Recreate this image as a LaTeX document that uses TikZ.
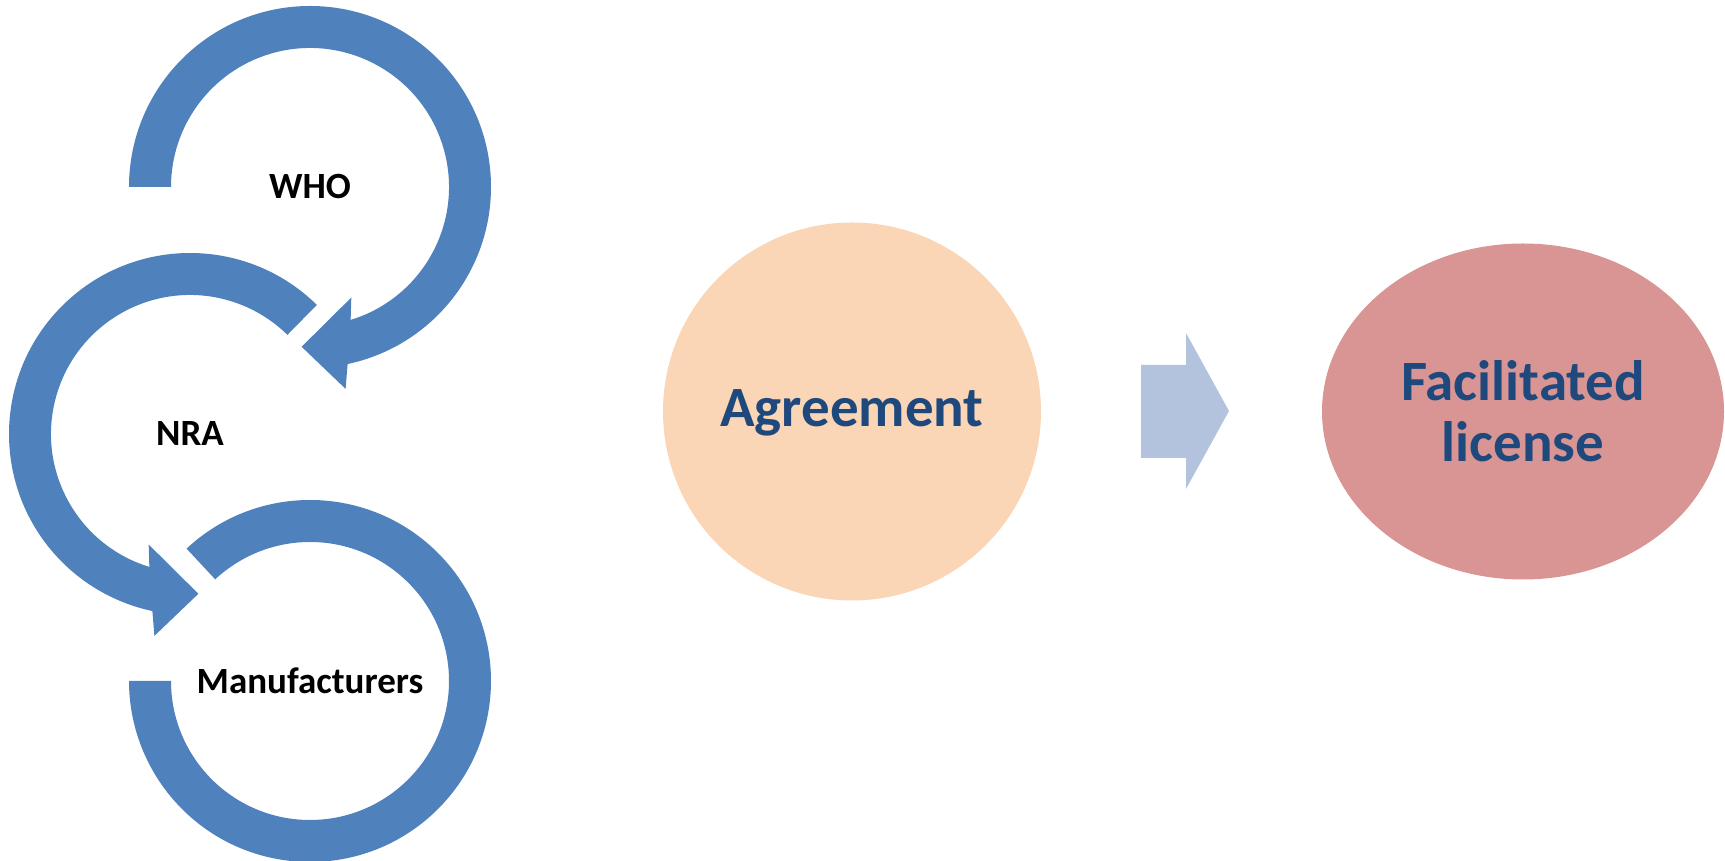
\documentclass[tikz,border=0pt]{standalone}
\usepackage{fontspec}
\setmainfont{Carlito}
\usepackage{xcolor}
\usepackage{tikz}
\usetikzlibrary{shapes.geometric}
\definecolor{ringblue}{HTML}{4F81BD}
\definecolor{peach}{HTML}{FAD5B6}
\definecolor{rose}{HTML}{D99594}
\definecolor{paleblue}{HTML}{B3C3DE}
\definecolor{navy}{HTML}{1F497D}

\begin{document}
\begin{tikzpicture}[x=0.5pt,y=0.5pt,
    ring/.style={fill=ringblue},
    lbl/.style={font=\fontsize{18.5}{22}\selectfont\bfseries,text=black,inner sep=0pt},
    big/.style={font=\fontsize{28.5}{30.5}\selectfont\bfseries,text=navy,inner sep=0pt}]
    \useasboundingbox (0,0) rectangle (1725,861);
    \node[lbl] (who) at (310,674) {WHO};
    \node[lbl] (nra) at (190,427) {NRA};
    \node[lbl] (manu) at (310,180) {Manufacturers};
    \begin{scope}[shift={(who)}]
        \fill[ring] (180:181) arc[start angle=180,end angle=-78,radius=181]
            -- (-80:205) -- (-93:160) -- (-69.5:118) -- (-73:139)
            arc[start angle=-73,end angle=180,radius=139] -- cycle;
    \end{scope}
    \begin{scope}[shift={(nra)}]
        \fill[ring] (45.5:181) arc[start angle=45.5,end angle=258,radius=181]
            -- (260:205) -- (273:160) -- (249.5:118) -- (253:139)
            arc[start angle=253,end angle=45.5,radius=139] -- cycle;
    \end{scope}
    \begin{scope}[shift={(manu)}]
        \fill[ring] (133:181) arc[start angle=133,end angle=-180,radius=181]
            -- (180:139) arc[start angle=-180,end angle=133,radius=139] -- cycle;
    \end{scope}
    \node[circle,fill=peach,minimum size=189pt,big,text depth=3pt] (agr) at (852,449.5) {Agreement};
    \node[ellipse,fill=rose,minimum width=201pt,minimum height=168pt,big,align=center] (lic) at (1523,449.5) {Facilitated\\license};
    \fill[paleblue] (1141,403) -- (1141,496) -- (1186,496) -- (1186,528)
        -- (1229,450) -- (1186,372) -- (1186,403) -- cycle;
\end{tikzpicture}
\end{document}
